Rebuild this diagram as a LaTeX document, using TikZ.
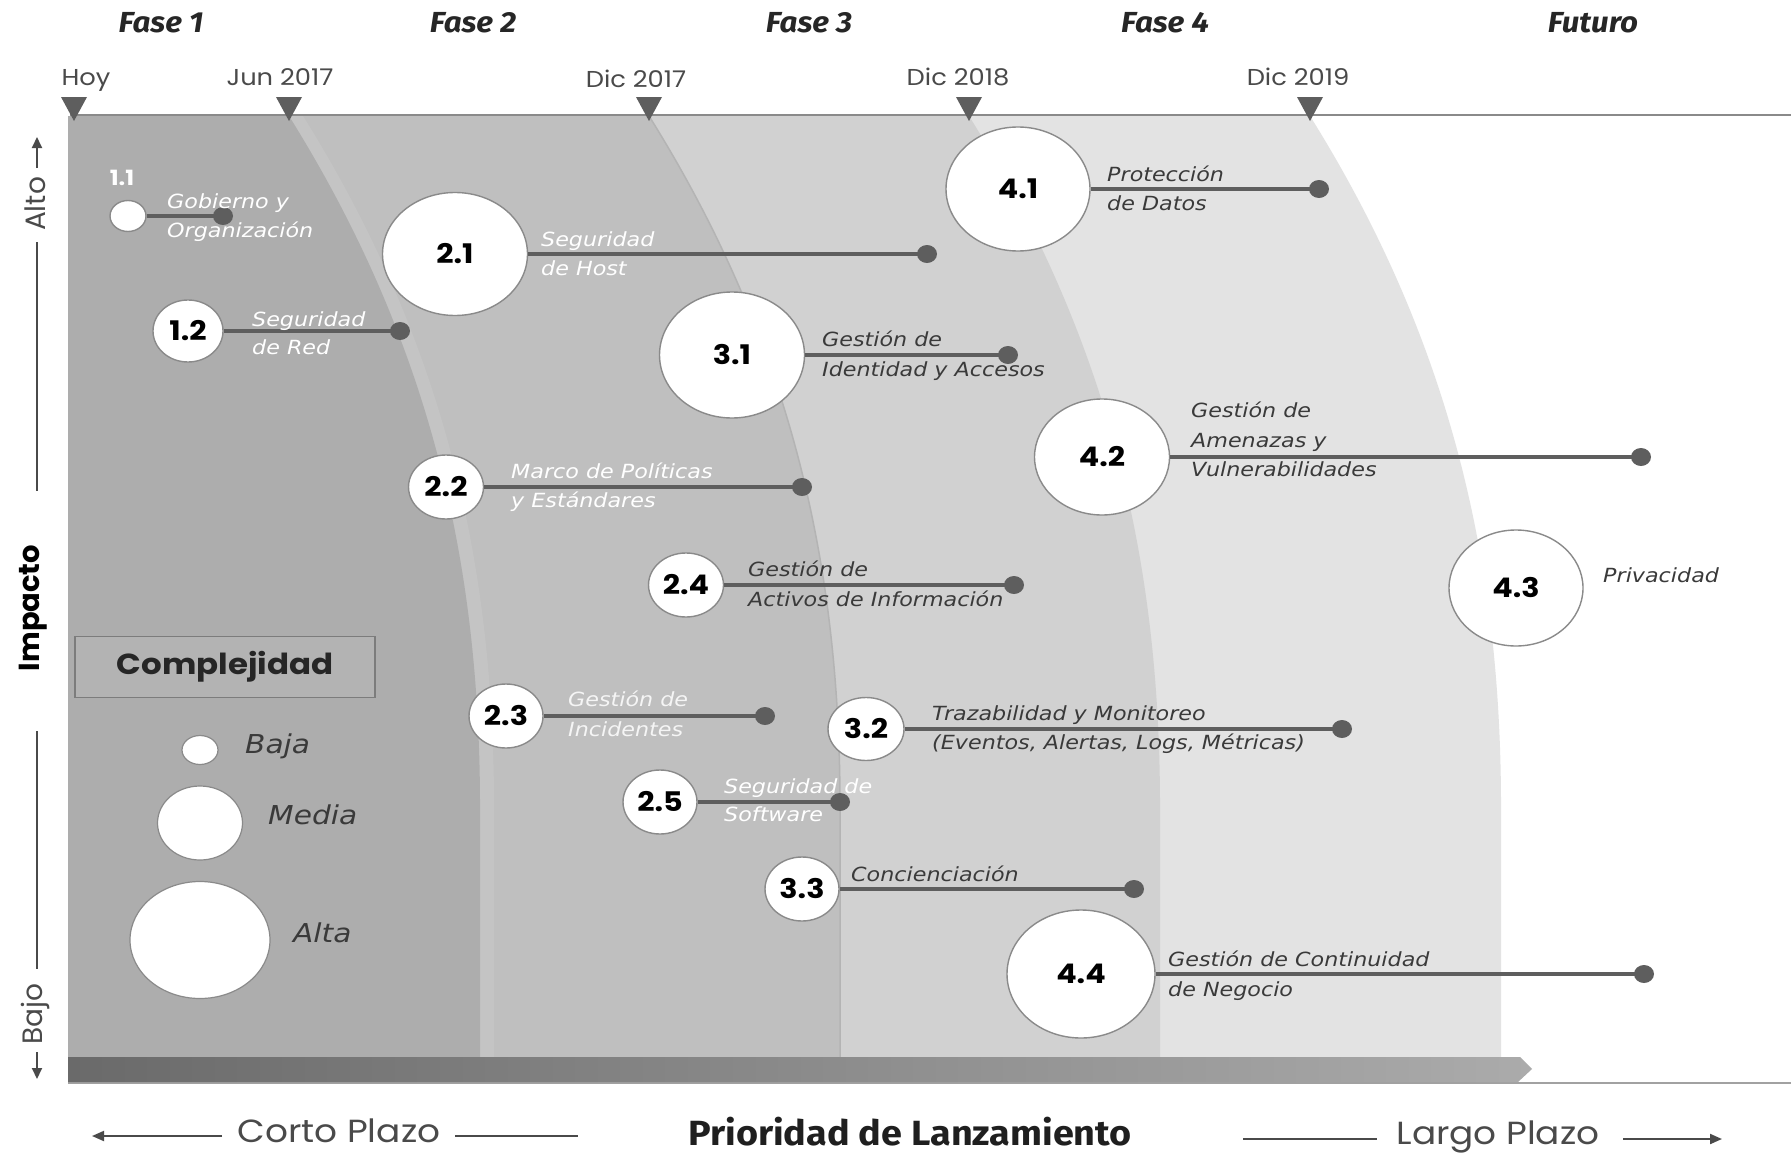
\documentclass[tikz,border=0pt]{standalone}
\usepackage{fontspec}
\usetikzlibrary{shapes.geometric,arrows.meta}
\newfontfamily\headfont[FakeStretch=1.12]{Poppins}
\newfontfamily\rotfont{Poppins}
\newfontfamily\firafont[FakeStretch=1.08]{Fira Sans}
\newfontfamily\itemfont[FakeStretch=1.14]{DejaVu Sans}
\newcommand\lblfont{\itemfont\itshape\fontsize{19.5}{24}\selectfont}
\newcommand\numfont{\headfont\bfseries\fontsize{27}{30}\selectfont}

\definecolor{bandA}{HTML}{ADADAD}
\definecolor{bandB}{HTML}{BFBFBF}
\definecolor{bandBlight}{HTML}{C4C4C4}
\definecolor{bandC}{HTML}{D1D1D1}
\definecolor{bandD}{HTML}{E3E3E3}
\definecolor{seam}{HTML}{B4B4B4}
\definecolor{ink}{HTML}{5E5E5E}
\definecolor{rim}{HTML}{8A8A8A}
\definecolor{lbltxt}{HTML}{3A3A3A}
\definecolor{headtxt}{HTML}{262626}
\definecolor{axistxt}{HTML}{4A4A4A}
\definecolor{barL}{HTML}{6A6A6A}
\definecolor{barR}{HTML}{ABABAB}
\definecolor{boxfill}{HTML}{B3B3B3}

% curved right edge of a phase band that leaves the timeline at x = #1
\newcommand\bandedge[1]{(#1,116)
    .. controls ({#1+145},348) and ({#1+190},570) .. ({#1+191},800)
    -- ({#1+191},1057)}
% one phase band: from the left edge to its curved right edge
\newcommand\phaseband[2]{%
  \fill[#2] (68,116) -- \bandedge{#1} -- (68,1057) -- cycle;}

\begin{document}
\begin{tikzpicture}[x=1pt, y=-1pt,
  item/.style={ellipse, draw=rim, line width=1.4pt, fill=white, inner sep=0pt,
    font=\numfont, text=black},
  dotnode/.style={ellipse, fill=ink, inner sep=0pt, minimum width=20pt, minimum height=18pt},
  conn/.style={draw=ink, line width=4pt},
  lblw/.style={anchor=base west, inner sep=0pt, font=\lblfont, text=white},
  lbld/.style={anchor=base west, inner sep=0pt, font=\lblfont, text=lbltxt},
  phase/.style={anchor=base, inner sep=0pt, text=headtxt,
    font=\firafont\bfseries\itshape\fontsize{29}{32}\selectfont},
  datelbl/.style={anchor=base, inner sep=0pt, text=axistxt,
    font=\headfont\fontsize{23}{26}\selectfont},
  legendlbl/.style={anchor=base west, inner sep=0pt, text=lbltxt,
    font=\itemfont\itshape\fontsize{26}{30}\selectfont},
  legendcirc/.style={ellipse, draw=rim, line width=1.2pt, fill=white, inner sep=0pt},
  axislbl/.style={rotate=90, inner sep=0pt, text=axistxt,
    font=\rotfont\fontsize{28}{30}\selectfont},
  axisline/.style={draw=axistxt, line width=2pt},
  plazo/.style={anchor=base, inner sep=0pt, text=axistxt,
    font=\headfont\fontsize{32}{36}\selectfont},
  marker/.style={fill=ink}
]
\useasboundingbox (0,0) rectangle (1791,1156);
\fill[white] (0,0) rectangle (1791,1156);

% phase bands, back to front
\phaseband{1310}{bandD}
\phaseband{969}{bandC}
\phaseband{649}{bandB}
\draw[seam, line width=1.5pt] \bandedge{649};
\phaseband{303}{bandBlight}
\phaseband{289}{bandA}

% bottom priority bar
\draw[rim!80, line width=2pt] (68,1083) -- (1791,1083);
\shade[left color=barL, right color=barR]
  (68,1057) -- (1520,1057) -- (1532,1069) -- (1518,1082) -- (68,1082) -- cycle;

% timeline
\draw[rim, line width=2pt] (70,115) -- (1791,115);
\foreach \mx in {74,289,649,969,1310}
  \fill[marker] ({\mx-13},97) -- ({\mx+13},97) -- (\mx,121) -- cycle;

\node[datelbl] (hoy) at (86,85) {Hoy};
\node[datelbl] (jun17) at (280,85) {Jun 2017};
\node[datelbl] (dic17) at (636,88) {Dic 2017};
\node[datelbl] (dic18) at (958,85) {Dic 2018};
\node[datelbl] (dic19) at (1298,85) {Dic 2019};

\node[phase] (f1) at (161,33) {Fase 1};
\node[phase] (f2) at (473,33) {Fase 2};
\node[phase] (f3) at (809,33) {Fase 3};
\node[phase] (f4) at (1165,33) {Fase 4};
\node[phase] (fut) at (1593,33) {Futuro};

% vertical impact axis
\node[axislbl] (alto) at (35,204) {Alto};
\node[axislbl, font=\rotfont\bfseries\fontsize{29}{32}\selectfont, text=black] (impacto) at (33,608) {Impacto};
\node[axislbl] (bajo) at (35,1014) {Bajo};
\coordinate (altotip) at (37,137);
\coordinate (altofoot) at (37,168);
\coordinate (ax1) at (37,242);
\coordinate (ax2) at (37,491);
\coordinate (ax3) at (37,731);
\coordinate (ax4) at (37,969);
\coordinate (bajohead) at (37,1052);
\coordinate (bajotip) at (37,1079);
\draw[axisline, -{Triangle[length=11pt,width=10pt]}] (altofoot) -- (altotip);
\draw[axisline] (ax1) -- (ax2);
\draw[axisline] (ax3) -- (ax4);
\draw[axisline, -{Triangle[length=11pt,width=10pt]}] (bajohead) -- (bajotip);

% complexity legend
\node[draw=rim!90!black, line width=1.5pt, fill=boxfill, minimum width=300pt, minimum height=61pt,
  inner sep=0pt, text=headtxt, font=\headfont\bfseries\fontsize{29}{32}\selectfont]
  (compl) at (225,667) {Complejidad};
\node[legendcirc, minimum width=36pt, minimum height=29pt] (lbaja) at (200,750) {};
\node[legendcirc, minimum width=85pt, minimum height=74pt] (lmedia) at (200,823) {};
\node[legendcirc, minimum width=140pt, minimum height=117pt] (lalta) at (200,940) {};
\node[legendlbl] (tbaja) at (245,753) {Baja};
\node[legendlbl] (tmedia) at (268,824) {Media};
\node[legendlbl] (talta) at (293,942) {Alta};

% ---- initiatives ----
% 1.1
\node[item, minimum width=36pt, minimum height=31pt] (c11) at (128,216) {};
\node[anchor=base, inner sep=0pt, text=white, font=\headfont\bfseries\fontsize{21}{24}\selectfont] (n11) at (122,185) {1.1};
\node[dotnode] (d11) at (223,216) {};
\draw[conn] (c11.east) -- (d11.center);
\node[lblw] (l11a) at (167,208) {Gobierno y};
\node[lblw] (l11b) at (167,237) {Organización};

% 1.2
\node[item, minimum width=70pt, minimum height=62pt] (c12) at (188,331) {1.2};
\node[dotnode] (d12) at (400,331) {};
\draw[conn] (c12.east) -- (d12.center);
\node[lblw] (l12a) at (252,326) {Seguridad};
\node[lblw] (l12b) at (252,354) {de Red};

% 2.1
\node[item, minimum width=145pt, minimum height=123pt] (c21) at (455,254) {2.1};
\node[dotnode] (d21) at (927,254) {};
\draw[conn] (c21.east) -- (d21.center);
\node[lblw] (l21a) at (541,246) {Seguridad};
\node[lblw] (l21b) at (541,275) {de Host};

% 2.2
\node[item, minimum width=75pt, minimum height=64pt] (c22) at (446,487) {2.2};
\node[dotnode] (d22) at (802,487) {};
\draw[conn] (c22.east) -- (d22.center);
\node[lblw] (l22a) at (511,478) {Marco de Políticas};
\node[lblw] (l22b) at (511,507) {y Estándares};

% 2.3
\node[item, minimum width=74pt, minimum height=64pt] (c23) at (506,716) {2.3};
\node[dotnode] (d23) at (765,716) {};
\draw[conn] (c23.east) -- (d23.center);
\node[lblw, text=white!92!gray] (l23a) at (568,706) {Gestión de};
\node[lblw, text=white!92!gray] (l23b) at (568,736) {Incidentes};

% 2.4
\node[item, minimum width=75pt, minimum height=64pt] (c24) at (686,585) {2.4};
\node[dotnode] (d24) at (1014,585) {};
\draw[conn] (c24.east) -- (d24.center);
\node[lbld] (l24a) at (748,576) {Gestión de};
\node[lbld] (l24b) at (748,606) {Activos de Información};

% 2.5
\node[item, minimum width=74pt, minimum height=64pt] (c25) at (660,802) {2.5};
\node[dotnode] (d25) at (840,802) {};
\draw[conn] (c25.east) -- (d25.center);
\node[lblw] (l25a) at (724,793) {Seguridad de};
\node[lblw] (l25b) at (724,821) {Software};

% 3.1
\node[item, minimum width=145pt, minimum height=126pt] (c31) at (732,355) {3.1};
\node[dotnode] (d31) at (1008,355) {};
\draw[conn] (c31.east) -- (d31.center);
\node[lbld] (l31a) at (822,346) {Gestión de};
\node[lbld] (l31b) at (822,376) {Identidad y Accesos};

% 3.2
\node[item, minimum width=76pt, minimum height=63pt] (c32) at (866,729) {3.2};
\node[dotnode] (d32) at (1342,729) {};
\draw[conn] (c32.east) -- (d32.center);
\node[lbld] (l32a) at (932,720) {Trazabilidad y Monitoreo};
\node[lbld] (l32b) at (932,749) {(Eventos, Alertas, Logs, Métricas)};

% 3.3
\node[item, minimum width=74pt, minimum height=64pt] (c33) at (802,889) {3.3};
\node[dotnode] (d33) at (1134,889) {};
\draw[conn] (c33.east) -- (d33.center);
\node[lbld] (l33a) at (851,881) {Concienciación};

% 4.1
\node[item, minimum width=144pt, minimum height=124pt] (c41) at (1018,189) {4.1};
\node[dotnode] (d41) at (1319,189) {};
\draw[conn] (c41.east) -- (d41.center);
\node[lbld] (l41a) at (1107,181) {Protección};
\node[lbld] (l41b) at (1107,210) {de Datos};

% 4.2
\node[item, minimum width=135pt, minimum height=116pt] (c42) at (1102,457) {4.2};
\node[dotnode] (d42) at (1641,457) {};
\draw[conn] (c42.east) -- (d42.center);
\node[lbld] (l42a) at (1191,417) {Gestión de};
\node[lbld] (l42b) at (1191,447) {Amenazas y};
\node[lbld] (l42c) at (1191,476) {Vulnerabilidades};

% 4.3
\node[item, minimum width=134pt, minimum height=116pt] (c43) at (1516,588) {4.3};
\node[lbld] (l43a) at (1603,582) {Privacidad};

% 4.4
\node[item, minimum width=148pt, minimum height=128pt] (c44) at (1081,974) {4.4};
\node[dotnode] (d44) at (1644,974) {};
\draw[conn] (c44.east) -- (d44.center);
\node[lbld] (l44a) at (1168,966) {Gestión de Continuidad};
\node[lbld] (l44b) at (1168,996) {de Negocio};

% horizon axis
\node[plazo] (corto) at (339,1142) {Corto Plazo};
\node[anchor=base, inner sep=0pt, text=black!88,
  font=\firafont\bfseries\fontsize{35}{38}\selectfont] (prio) at (910,1145) {Prioridad de Lanzamiento};
\node[plazo] (largo) at (1498,1144) {Largo Plazo};
\coordinate (cortotip) at (92,1136);
\coordinate (cortoL) at (222,1136);
\coordinate (cortoR1) at (455,1136);
\coordinate (cortoR2) at (578,1136);
\coordinate (largoL1) at (1243,1139);
\coordinate (largoL2) at (1377,1139);
\coordinate (largoR) at (1623,1139);
\coordinate (largotip) at (1722,1139);
\draw[axisline, -{Triangle[length=12pt,width=10pt]}] (cortoL) -- (cortotip);
\draw[axisline] (cortoR1) -- (cortoR2);
\draw[axisline] (largoL1) -- (largoL2);
\draw[axisline, -{Triangle[length=12pt,width=10pt]}] (largoR) -- (largotip);
\end{tikzpicture}
\end{document}
